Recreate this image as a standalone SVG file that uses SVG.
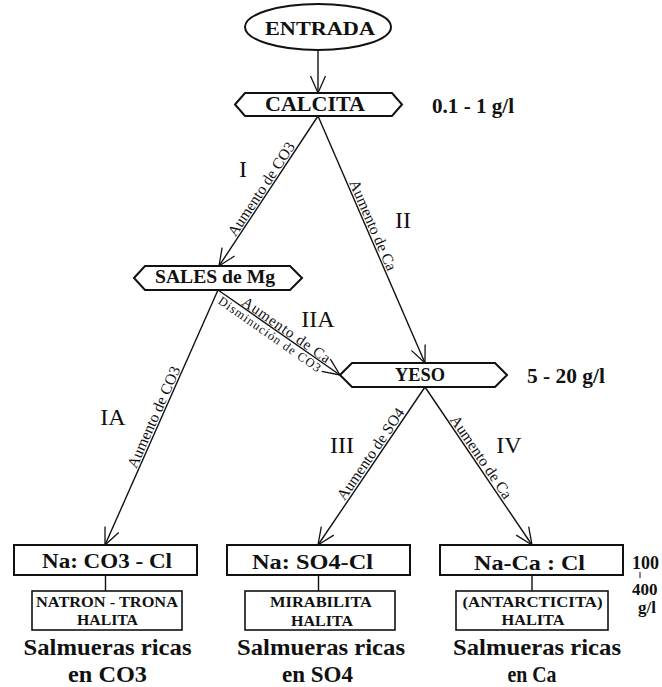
<svg xmlns="http://www.w3.org/2000/svg" width="662" height="687" viewBox="0 0 662 687">
  <defs>
    <!-- open V arrowhead, tip at the end of the path -->
    <marker id="arrow" markerUnits="userSpaceOnUse" viewBox="-19 -10 21 20" refX="0" refY="0" markerWidth="21" markerHeight="20" orient="auto" overflow="visible">
      <path d="M-17,-7.5 L0,0 L-17,7.5" fill="none" stroke="#111" stroke-width="1.3"/>
    </marker>
  </defs>
  <style>
    .shape{fill:#fff;stroke:#111;stroke-width:2}
    .conn{fill:none;stroke:#111;stroke-width:1.4}
    .b{font-family:"Liberation Serif","DejaVu Serif","Times New Roman",serif;font-weight:bold;fill:#111;text-anchor:middle}
    .lbl{font-family:"Liberation Serif","DejaVu Serif","Times New Roman",serif;font-size:15.5px;fill:#111;text-anchor:middle}
    .num{font-family:"Liberation Serif","DejaVu Serif","Times New Roman",serif;font-size:24px;fill:#111;text-anchor:middle}
    .side{font-family:"Liberation Serif","DejaVu Serif","Times New Roman",serif;font-weight:bold;fill:#111}
  </style>
  <rect width="662" height="687" fill="#fff"/>

  <!-- connectors -->
  <g id="connectors">
    <path class="conn" d="M318,50 L318,93" marker-end="url(#arrow)"/>
    <path class="conn" d="M318,116 L219,266" marker-end="url(#arrow)"/>
    <path class="conn" d="M318,116 L425,363" marker-end="url(#arrow)"/>
    <path class="conn" d="M218,290 L340,375" marker-end="url(#arrow)"/>
    <path class="conn" d="M218,290 L105,545" marker-end="url(#arrow)"/>
    <path class="conn" d="M425,387 L318,545" marker-end="url(#arrow)"/>
    <path class="conn" d="M425,387 L532,545" marker-end="url(#arrow)"/>
    <path class="conn" d="M105.5,575 V591 M318.5,575 V591 M532,575 V591"/>

    <!-- connector labels -->
    <text class="lbl" transform="translate(265.5,191.9) rotate(-56.6)">Aumento de CO3</text>
    <text class="lbl" transform="translate(368.3,227.2) rotate(66.6)">Aumento de Ca</text>
    <text class="lbl" style="font-size:15px" textLength="104" lengthAdjust="spacing" transform="translate(283.5,333.9) rotate(34.9)">Aumento de Ca</text>
    <text class="lbl" style="font-size:12.5px" textLength="122" lengthAdjust="spacing" transform="translate(267.2,337.7) rotate(34.9)">Disminución de CO3</text>
    <text class="lbl" transform="translate(158.4,419.2) rotate(-66)">Aumento de CO3</text>
    <text class="lbl" transform="translate(374.9,456.9) rotate(-55.7)">Aumento de SO4</text>
    <text class="lbl" transform="translate(477,459.9) rotate(55.7)">Aumento de Ca</text>

    <!-- path numerals -->
    <text class="num" x="243" y="177">I</text>
    <text class="num" x="403" y="228">II</text>
    <text class="num" x="318" y="327">IIA</text>
    <text class="num" x="113" y="425">IA</text>
    <text class="num" x="342" y="453">III</text>
    <text class="num" x="509" y="453">IV</text>
  </g>

  <!-- start -->
  <g id="entrada">
    <ellipse class="shape" cx="318" cy="27" rx="73" ry="23"/>
    <text class="b" x="320" y="35" font-size="19" textLength="110" lengthAdjust="spacingAndGlyphs">ENTRADA</text>
  </g>

  <!-- mineral stages -->
  <g id="calcita">
    <polygon class="shape" points="235,104.5 245,93 392,93 402,104.5 392,116 245,116"/>
    <text class="b" x="315" y="111" font-size="21" textLength="100" lengthAdjust="spacingAndGlyphs">CALCITA</text>
    <text class="side" x="432" y="113" font-size="21" textLength="82" lengthAdjust="spacingAndGlyphs">0.1 - 1 g/l</text>
  </g>

  <g id="sales-mg">
    <polygon class="shape" points="134,278 145,266 290,266 302,278 290,290 145,290"/>
    <text class="b" x="215" y="282.5" font-size="18" textLength="120" lengthAdjust="spacingAndGlyphs">SALES de Mg</text>
  </g>

  <g id="yeso">
    <polygon class="shape" points="340,375 352,363 495,363 507,375 495,387 352,387"/>
    <text class="b" x="420" y="381" font-size="18.5" textLength="50" lengthAdjust="spacingAndGlyphs">YESO</text>
    <text class="side" x="527" y="383" font-size="20" textLength="78" lengthAdjust="spacingAndGlyphs">5 - 20 g/l</text>
  </g>

  <!-- brine types -->
  <g id="brine-co3">
    <rect class="shape" x="14" y="545" width="183" height="30"/>
    <text class="b" x="107" y="568" font-size="22" textLength="130" lengthAdjust="spacingAndGlyphs">Na: CO3 - Cl</text>
    <rect class="shape" x="32" y="591" width="150" height="39" style="stroke-width:1.6"/>
    <text class="b" x="107" y="607" font-size="15" textLength="142" lengthAdjust="spacingAndGlyphs">NATRON - TRONA</text>
    <text class="b" x="107.5" y="625" font-size="15" textLength="61" lengthAdjust="spacingAndGlyphs">HALITA</text>
    <text class="b" x="107.5" y="655" font-size="23" textLength="168" lengthAdjust="spacingAndGlyphs">Salmueras ricas</text>
    <text class="b" x="107.5" y="682" font-size="23" textLength="79" lengthAdjust="spacingAndGlyphs">en CO3</text>
  </g>

  <g id="brine-so4">
    <rect class="shape" x="227" y="545" width="183" height="30"/>
    <text class="b" x="312.5" y="569" font-size="22" textLength="121" lengthAdjust="spacingAndGlyphs">Na: SO4-Cl</text>
    <rect class="shape" x="245" y="591" width="150" height="39" style="stroke-width:1.6"/>
    <text class="b" x="321" y="607" font-size="15" textLength="102" lengthAdjust="spacingAndGlyphs">MIRABILITA</text>
    <text class="b" x="322" y="626" font-size="15" textLength="62" lengthAdjust="spacingAndGlyphs">HALITA</text>
    <text class="b" x="321" y="655" font-size="23" textLength="168" lengthAdjust="spacingAndGlyphs">Salmueras ricas</text>
    <text class="b" x="317.5" y="682" font-size="23" textLength="71" lengthAdjust="spacingAndGlyphs">en SO4</text>
  </g>

  <g id="brine-ca">
    <rect class="shape" x="440" y="545" width="183" height="30"/>
    <text class="b" x="529.5" y="570" font-size="22" textLength="111" lengthAdjust="spacingAndGlyphs">Na-Ca : Cl</text>
    <rect class="shape" x="456" y="591" width="152" height="39" style="stroke-width:1.6"/>
    <text class="b" x="532.5" y="607" font-size="15" textLength="140" lengthAdjust="spacingAndGlyphs">(ANTARCTICITA)</text>
    <text class="b" x="533" y="625" font-size="15" textLength="63" lengthAdjust="spacingAndGlyphs">HALITA</text>
    <text class="b" x="537" y="655" font-size="23" textLength="168" lengthAdjust="spacingAndGlyphs">Salmueras ricas</text>
    <text class="b" x="532" y="682" font-size="23" textLength="49" lengthAdjust="spacingAndGlyphs">en Ca</text>
    <text class="side" x="632" y="569" font-size="18">100</text>
    <line x1="640" y1="572" x2="640" y2="578" stroke="#111" stroke-width="1"/>
    <text class="side" x="632" y="595" font-size="17">400</text>
    <text class="side" x="638" y="613" font-size="17">g/l</text>
  </g>
</svg>
